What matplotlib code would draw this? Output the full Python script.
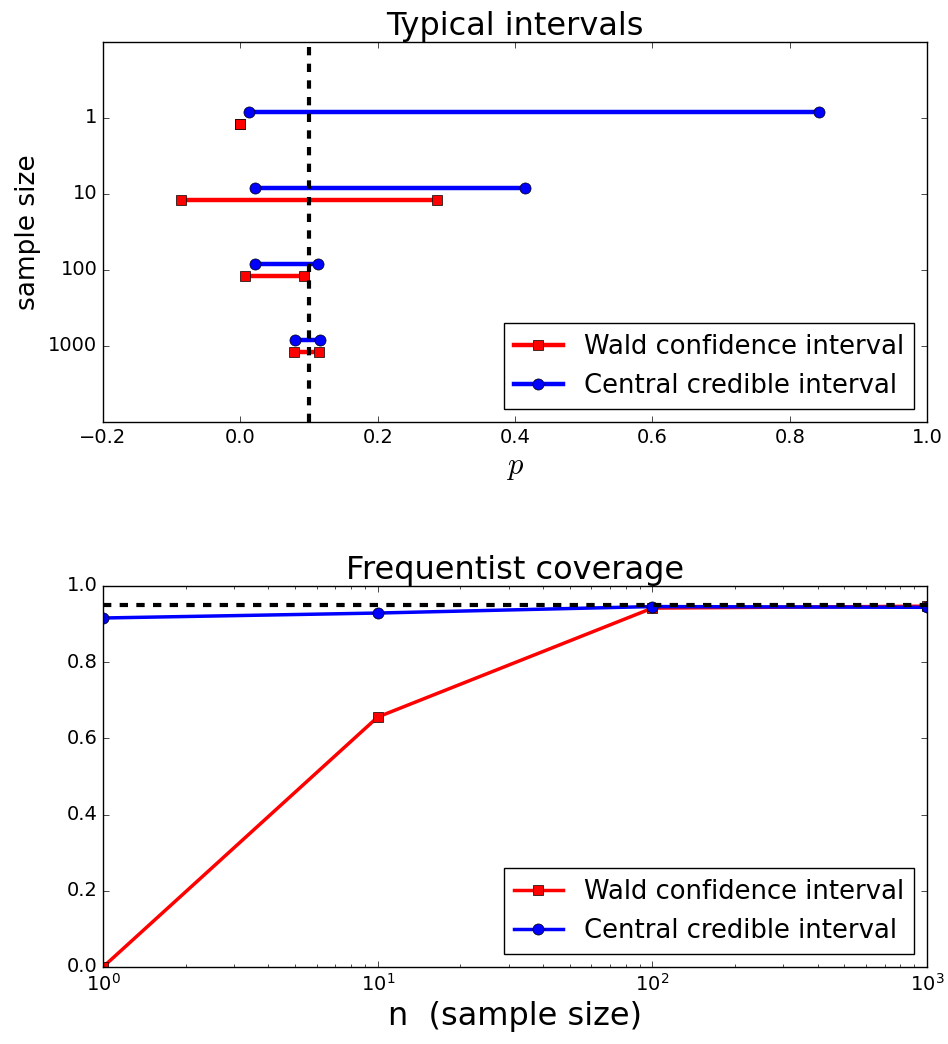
import matplotlib
matplotlib.use("Agg")
import matplotlib.pyplot as plt
import numpy as np

plt.style.use("classic")

# --- datos ---
sample_sizes = [1, 10, 100, 1000]
p_true = 0.1

wald_low = [0.0, -0.086, 0.007, 0.078]
wald_high = [0.0, 0.286, 0.093, 0.114]
cred_low = [0.013, 0.022, 0.022, 0.080]
cred_high = [0.843, 0.414, 0.113, 0.116]

wald_coverage = [0.0, 0.656, 0.942, 0.947]
cred_coverage = [0.916, 0.929, 0.946, 0.944]
nominal = 0.95

fig = plt.figure(figsize=(9.48, 10.44), dpi=100)
fig.patch.set_facecolor("white")

# --- intervalos tipicos ---
ax1 = fig.add_axes([0.1087, 0.5958, 0.8692, 0.364])
pos = np.arange(len(sample_sizes))
for i in pos:
    lw = ax1.plot([wald_low[i], wald_high[i]], [i + 0.08, i + 0.08], "-s",
                  color="red", lw=3.2, ms=7.5, mec="black", mew=0.5)
    cr = ax1.plot([cred_low[i], cred_high[i]], [i - 0.08, i - 0.08], "-o",
                  color="blue", lw=3.2, ms=8, mec="black", mew=0.5)
ax1.axvline(p_true, color="black", ls="--", lw=3)
ax1.set_xlim(-0.2, 1.0)
ax1.set_ylim(4, -1)
ax1.set_yticks(pos)
ax1.set_yticklabels([str(n) for n in sample_sizes])
ax1.tick_params(labelsize=14)
ax1.set_xlabel("$p$", fontsize=22)
ax1.set_ylabel("sample size", fontsize=19)
ax1.set_title("Typical intervals", fontsize=23)
ax1.legend([lw[0], cr[0]], ["Wald confidence interval", "Central credible interval"],
           loc="lower right", numpoints=1, fontsize=18.6, handlelength=1.9)

# --- cobertura ---
ax2 = fig.add_axes([0.1087, 0.0738, 0.8692, 0.3649])
ax2.plot(sample_sizes, wald_coverage, "-s", color="red", lw=2.5, ms=7.5,
         mec="black", mew=0.5, label="Wald confidence interval")
ax2.plot(sample_sizes, cred_coverage, "-o", color="blue", lw=2.5, ms=8,
         mec="black", mew=0.5, label="Central credible interval")
ax2.axhline(nominal, color="black", ls="--", lw=3)
ax2.set_xscale("log")
ax2.set_xlim(1, 1000)
ax2.set_ylim(0, 1)
ax2.tick_params(labelsize=14)
ax2.set_xlabel("n  (sample size)", fontsize=23)
ax2.set_title("Frequentist coverage", fontsize=23)
ax2.legend(loc="lower right", numpoints=1, fontsize=18.6, handlelength=1.9)

fig.savefig("out.png", dpi=100, facecolor="white")
